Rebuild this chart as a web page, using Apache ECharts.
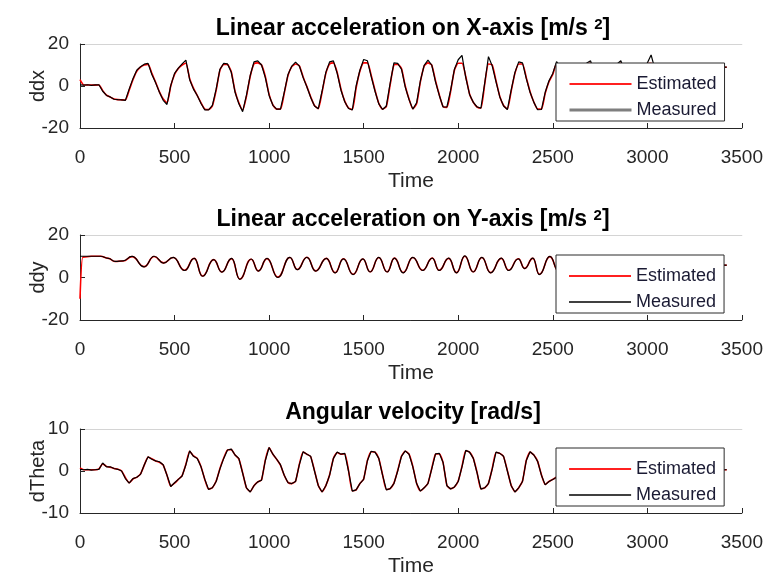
<!DOCTYPE html>
<html>
<head>
<meta charset="utf-8">
<script src="https://cdn.jsdelivr.net/npm/echarts@6/dist/echarts.min.js"></script>
<style>
  html, body { margin: 0; padding: 0; background: #ffffff; }
  #chart { width: 766px; height: 578px; }
</style>
</head>
<body>
<div id="chart"></div>
<script>
// Sample times (shared by the ddx and dTheta traces)
const sampleTimes = [
  0, 20, 40, 60, 80, 100, 120, 140, 160, 180,
  200, 220, 240, 260, 280, 300, 320, 340, 360, 380,
  400, 420, 440, 460, 480, 500, 520, 540, 560, 580,
  600, 620, 640, 660, 680, 700, 720, 740, 760, 780,
  800, 820, 840, 860, 880, 900, 920, 940, 960, 980,
  1000, 1020, 1040, 1060, 1080, 1100, 1120, 1140, 1160, 1180,
  1200, 1220, 1240, 1260, 1280, 1300, 1320, 1340, 1360, 1380,
  1400, 1420, 1440, 1460, 1480, 1500, 1520, 1540, 1560, 1580,
  1600, 1620, 1640, 1660, 1680, 1700, 1720, 1740, 1760, 1780,
  1800, 1820, 1840, 1860, 1880, 1900, 1920, 1940, 1960, 1980,
  2000, 2020, 2040, 2060, 2080, 2100, 2120, 2140, 2160, 2180,
  2200, 2220, 2240, 2260, 2280, 2300, 2320, 2340, 2360, 2380,
  2400, 2420, 2440, 2460, 2480, 2500, 2520, 2540, 2560, 2580,
  2600, 2620, 2640, 2660, 2680, 2700, 2720, 2740, 2760, 2780,
  2800, 2820, 2840, 2860, 2880, 2900, 2920, 2940, 2960, 2980,
  3000, 3020, 3040, 3060, 3080, 3100, 3120, 3140, 3160, 3180,
  3200, 3220, 3240, 3260, 3280, 3300, 3320, 3340, 3360, 3380,
  3400, 3420
];

// Linear acceleration on X-axis [m/s^2]
const ddxMeasured = [
  0.5, 0.4, 0.6, 0.3, 0.5, 0.6, -2.5, -4.5, -5.2, -6.3,
  -6.5, -6.6, -6.8, -1.5, 3.5, 7.5, 9.2, 10.4, 10.8, 5.5,
  1.5, -3.0, -6.8, -8.8, 0.3, 6.0, 8.5, 10.5, 12.3, 3.0,
  -1.5, -4.5, -8.3, -11.4, -11.4, -9.2, -1.5, 8.0, 10.8, 10.5,
  6.5, -3.0, -8.5, -12.2, -4.5, 5.0, 11.5, 12.0, 10.0, 4.0,
  -4.5, -9.2, -11.0, -11.0, -3.0, 5.5, 9.5, 11.4, 9.5, 4.0,
  -0.5, -5.5, -9.5, -10.8, -2.5, 6.5, 11.5, 12.0, 6.0, -2.0,
  -7.5, -10.7, -11.4, 0.0, 7.5, 12.6, 12.0, 4.5, -2.5, -8.5,
  -11.2, -9.5, 1.3, 11.0, 10.8, 8.0, -0.5, -6.5, -11.0, -8.0,
  2.5, 9.8, 12.3, 10.0, 2.0, -4.5, -10.0, -10.0, -2.0, 8.0,
  12.5, 14.6, 4.0, -4.0, -7.8, -10.0, -10.5, 1.3, 14.0, 9.5,
  2.0, -5.2, -9.5, -11.2, -2.0, 6.5, 11.5, 11.0, 3.5, -3.0,
  -7.8, -11.3, -11.2, -3.0, 2.5, 6.0, 11.6, 9.0, 2.0, -5.0,
  -10.0, -11.5, -5.0, 5.0, 11.0, 12.0, 6.0, -2.0, -8.0, -11.5,
  -6.0, 4.0, 10.5, 12.0, 7.0, -1.0, -7.5, -11.0, -6.0, 4.0,
  11.0, 14.8, 8.0, 0.0, -7.0, -11.0, -7.0, 3.0, 9.5, 10.5,
  6.0, -2.0, -8.0, -11.0, -6.0, 3.0, 8.5, 10.0, 9.5, 9.0,
  9.0, 9.0
];
const ddxEstimated = [
  3.0, 0.5, 0.5, 0.4, 0.4, 0.5, -2.2, -4.3, -5.3, -6.2,
  -6.5, -6.6, -6.7, -2.0, 3.0, 7.0, 9.0, 10.0, 10.3, 6.0,
  1.8, -2.8, -6.2, -8.0, 0.0, 5.5, 8.3, 10.0, 10.8, 3.5,
  -1.0, -4.5, -8.0, -11.0, -11.2, -9.5, -2.0, 7.5, 10.3, 10.2,
  6.8, -2.5, -8.0, -11.5, -5.0, 4.5, 10.5, 11.0, 10.0, 4.5,
  -4.0, -9.0, -11.0, -11.0, -3.5, 5.0, 9.2, 10.5, 9.6, 4.3,
  -0.3, -5.2, -9.3, -10.8, -3.0, 6.0, 10.5, 11.0, 6.5, -1.5,
  -7.2, -10.5, -11.2, -1.0, 7.0, 11.0, 11.0, 5.0, -2.0, -8.2,
  -11.0, -9.8, 0.5, 10.0, 10.3, 8.3, 0.0, -6.2, -10.8, -8.5,
  2.0, 9.5, 11.0, 10.0, 2.5, -4.2, -9.8, -10.2, -2.5, 7.5,
  10.8, 10.8, 4.5, -3.8, -7.8, -10.0, -10.5, 0.8, 10.5, 10.0,
  2.5, -5.0, -9.3, -11.0, -2.5, 6.0, 10.5, 10.5, 4.0, -2.7,
  -7.6, -11.0, -11.0, -3.5, 2.0, 5.5, 10.5, 9.2, 2.5, -4.8,
  -9.8, -11.2, -5.5, 4.5, 10.3, 10.8, 6.5, -1.5, -7.8, -11.2,
  -6.5, 3.5, 10.0, 10.8, 7.5, -0.5, -7.2, -10.8, -6.5, 3.5,
  10.3, 10.8, 8.5, 0.5, -6.8, -10.8, -7.5, 2.5, 9.2, 10.3,
  6.5, -1.5, -7.8, -10.8, -6.5, 2.5, 8.2, 9.7, 9.3, 8.9,
  8.9, 8.9
];

// Linear acceleration on Y-axis [m/s^2] (turning points of the oscillation)
const ddyTimes = [
  0, 15, 60, 108, 150, 185, 228, 275, 339, 392,
  442, 493, 553, 604, 648, 707, 750, 802, 845, 905,
  943, 989, 1046, 1110, 1149, 1200, 1246, 1303, 1349, 1393,
  1444, 1496, 1534, 1580, 1624, 1663, 1709, 1760, 1812, 1863,
  1899, 1950, 1991, 2035, 2079, 2125, 2171, 2228, 2266, 2318,
  2351, 2395, 2429, 2485, 2530, 2575, 2620, 2665, 2710, 2755,
  2800, 2845, 2890, 2935, 2980, 3025, 3070, 3115, 3160, 3205,
  3250, 3295, 3340, 3380, 3400, 3420
];
const ddyMeasured = [
  10.0, 10.0, 10.0, 10.0, 9.0, 7.6, 7.8, 9.9, 5.0, 10.0,
  6.8, 9.5, 3.3, 9.0, 0.6, 8.4, 2.5, 9.0, -0.9, 8.7,
  3.0, 9.0, 0.0, 9.5, 3.7, 9.5, 3.0, 9.0, 2.2, 8.8,
  1.4, 8.8, 2.6, 9.5, 2.6, 9.1, 2.2, 9.5, 3.3, 9.1,
  3.3, 9.1, 2.2, 10.2, 2.6, 9.5, 2.2, 9.1, 3.3, 8.8,
  4.2, 9.1, 1.4, 9.9, 3.0, 9.2, 2.5, 9.0, 3.0, 9.3,
  2.8, 9.0, 3.2, 9.1, 2.6, 9.4, 3.0, 9.0, 3.4, 8.8,
  3.0, 8.9, 3.6, 5.8, 5.8, 5.8
];
const ddyEstimated = [
  -10.0, 9.6, 10.0, 10.0, 9.0, 7.5, 7.8, 9.8, 5.1, 9.9,
  6.9, 9.4, 3.4, 9.0, 0.7, 8.4, 2.6, 8.9, -0.7, 8.6,
  3.1, 8.9, 0.2, 9.4, 3.8, 9.5, 3.1, 9.0, 2.3, 8.8,
  1.5, 8.7, 2.7, 9.4, 2.7, 9.1, 2.3, 9.4, 3.4, 9.1,
  3.4, 9.0, 2.3, 10.0, 2.7, 9.4, 2.3, 9.0, 3.4, 8.8,
  4.3, 9.0, 1.5, 9.8, 3.1, 9.1, 2.6, 9.0, 3.1, 9.2,
  2.9, 9.0, 3.3, 9.0, 2.7, 9.3, 3.1, 9.0, 3.5, 8.7,
  3.1, 8.8, 3.7, 5.8, 5.8, 5.8
];

// Angular velocity [rad/s]
const dThetaMeasured = [
  0.4, 0.3, 0.4, 0.2, 0.3, 0.4, 1.9, 1.0, 1.0, 0.6,
  0.4, 0.0, -1.8, -2.9, -1.8, -1.5, -0.8, 1.5, 3.4, 2.8,
  2.4, 2.2, 1.5, -1.0, -3.7, -2.8, -2.0, -1.2, 1.5, 4.8,
  3.5, 3.0, 1.0, -2.0, -4.4, -4.0, -2.5, 0.5, 3.0, 5.0,
  5.2, 3.8, 3.0, -0.5, -4.0, -5.0, -3.5, -2.6, -2.2, 2.5,
  5.6, 4.0, 2.8, 1.5, -1.0, -2.8, -3.0, -2.5, 1.5, 4.6,
  4.0, 3.5, 0.0, -3.5, -5.0, -3.5, -1.0, 3.0, 4.5, 4.0,
  4.2, 0.0, -4.8, -4.5, -3.0, -2.0, 2.5, 4.7, 4.5, 3.0,
  -1.0, -4.5, -4.2, -3.0, 0.0, 3.5, 4.8, 4.0, 1.0, -3.0,
  -4.8, -4.0, -3.0, 0.5, 4.1, 4.2, 2.0, -3.5, -4.3, -3.8,
  -2.5, 1.0, 4.9, 4.5, 3.0, -0.5, -4.3, -4.0, -3.0, 0.5,
  4.5, 4.2, 3.5, 0.0, -3.5, -5.0, -4.0, -2.5, 2.5, 4.6,
  3.8, 2.3, -1.0, -3.3, -2.5, -2.0, -1.5, 2.0, 4.5, 4.0,
  2.5, -1.0, -4.0, -4.5, -3.0, -1.0, 3.0, 4.5, 4.0, 2.0,
  -2.0, -4.5, -4.0, -2.5, 1.0, 4.0, 4.5, 3.0, 0.0, -3.5,
  -4.5, -3.5, -1.5, 2.5, 4.5, 4.0, 2.5, -1.0, -4.0, -4.5,
  -3.0, -0.5, 3.0, 4.5, 3.5, 1.0, -2.5, -2.0, -1.0, 0.0,
  0.3, 0.3
];
const dThetaEstimated = [
  0.7, 0.3, 0.3, 0.3, 0.3, 0.5, 1.7, 1.1, 0.9, 0.6,
  0.4, 0.0, -1.6, -2.8, -1.9, -1.5, -0.7, 1.4, 3.3, 2.9,
  2.4, 2.1, 1.4, -1.0, -3.6, -2.9, -2.0, -1.1, 1.6, 4.7,
  3.6, 3.0, 1.0, -2.0, -4.3, -4.0, -2.4, 0.6, 3.1, 5.0,
  5.1, 3.8, 2.9, -0.4, -4.0, -4.9, -3.5, -2.6, -2.1, 2.6,
  5.5, 4.0, 2.8, 1.4, -1.0, -2.7, -3.0, -2.4, 1.6, 4.5,
  4.0, 3.4, 0.1, -3.4, -4.9, -3.5, -0.9, 3.0, 4.4, 4.0,
  4.1, 0.1, -4.7, -4.5, -3.0, -1.9, 2.5, 4.6, 4.5, 3.0,
  -0.9, -4.4, -4.2, -2.9, 0.1, 3.5, 4.7, 4.0, 1.1, -2.9,
  -4.7, -4.0, -2.9, 0.6, 4.0, 4.1, 2.0, -3.4, -4.2, -3.8,
  -2.4, 1.1, 4.8, 4.5, 3.0, -0.4, -4.2, -4.0, -2.9, 0.6,
  4.4, 4.2, 3.4, 0.1, -3.4, -4.9, -4.0, -2.4, 2.5, 4.5,
  3.8, 2.3, -0.9, -3.2, -2.5, -2.0, -1.4, 2.0, 4.4, 4.0,
  2.5, -0.9, -3.9, -4.4, -3.0, -0.9, 3.0, 4.4, 4.0, 2.0,
  -1.9, -4.4, -4.0, -2.4, 1.0, 3.9, 4.4, 3.0, 0.1, -3.4,
  -4.4, -3.5, -1.4, 2.5, 4.4, 4.0, 2.5, -0.9, -3.9, -4.4,
  -3.0, -0.4, 3.0, 4.4, 3.5, 1.0, -2.4, -2.0, -1.0, 0.0,
  0.3, 0.3
];

// Axis and panel labels
const timeTicks = [0, 500, 1000, 1500, 2000, 2500, 3000, 3500];
const panelTitles = [
  '{b|Linear acceleration on X-axis [m/s }{s|2}{b|]}',
  '{b|Linear acceleration on Y-axis [m/s }{s|2}{b|]}',
  '{b|Angular velocity [rad/s]}'
];
const yNames = ['ddx', 'ddy', 'dTheta'];
const yRanges = [[-20, 20, 20], [-20, 20, 20], [-10, 10, 10]];
const legendNames = ['Estimated', 'Measured'];

const FONT = '"Liberation Sans", Arial, Helvetica, sans-serif';
const AXIS_COLOR = '#262626';

const grids = [
  { left: 80, top: 44, width: 665, height: 84 },
  { left: 80, top: 235, width: 665, height: 85 },
  { left: 80, top: 429, width: 665, height: 85 }
];
const legendTops = [63, 255, 448];
const titleTops = [12, 203, 396];
const measuredLegendStyle = [
  { color: '#7f7f7f', width: 3 },
  { color: '#000000', width: 1.5 },
  { color: '#404040', width: 2.2 }
];

function pairs(times, values) {
  return values.map((v, i) => [times[i], v]);
}

const xAxes = [];
const yAxes = [];
grids.forEach((g, i) => {
  xAxes.push({
    gridIndex: i,
    type: 'value',
    min: timeTicks[0],
    max: timeTicks[timeTicks.length - 1],
    interval: timeTicks[1] - timeTicks[0],
    axisLine: { show: true, onZero: false, lineStyle: { color: AXIS_COLOR, width: 1 } },
    axisTick: { show: true, inside: true, length: 5, lineStyle: { color: AXIS_COLOR } },
    axisLabel: { fontSize: 19, color: AXIS_COLOR, margin: 20, fontFamily: FONT, formatter: v => String(v) },
    splitLine: { show: false },
    name: 'Time',
    nameLocation: 'middle',
    nameGap: 43,
    nameMoveOverlap: false,
    nameTextStyle: { fontSize: 21, color: AXIS_COLOR, fontFamily: FONT }
  });
  // light frame line along the top of each panel
  xAxes.push({
    gridIndex: i,
    type: 'value',
    position: 'top',
    min: timeTicks[0],
    max: timeTicks[timeTicks.length - 1],
    axisLine: { show: true, onZero: false, lineStyle: { color: '#d4d4d4', width: 1 } },
    axisTick: { show: false },
    axisLabel: { show: false },
    splitLine: { show: false }
  });
  const r = yRanges[i];
  yAxes.push({
    gridIndex: i,
    type: 'value',
    min: r[0],
    max: r[1],
    interval: r[2],
    axisLine: { show: true, onZero: false, lineStyle: { color: AXIS_COLOR, width: 1 } },
    axisTick: { show: true, inside: true, length: 5, lineStyle: { color: AXIS_COLOR } },
    axisLabel: { fontSize: 19, color: AXIS_COLOR, margin: 11, fontFamily: FONT },
    splitLine: { show: false },
    name: yNames[i],
    nameLocation: 'middle',
    nameGap: 32,
    nameMoveOverlap: false,
    nameTextStyle: { fontSize: 20, color: AXIS_COLOR, fontFamily: FONT }
  });
});

const panelData = [
  [pairs(sampleTimes, ddxEstimated), pairs(sampleTimes, ddxMeasured)],
  [pairs(ddyTimes, ddyEstimated), pairs(ddyTimes, ddyMeasured)],
  [pairs(sampleTimes, dThetaEstimated), pairs(sampleTimes, dThetaMeasured)]
];

const series = [];
panelData.forEach((d, i) => {
  const smoothPanel = i === 1;
  series.push({
    name: legendNames[0],
    type: 'line',
    xAxisIndex: 2 * i,
    yAxisIndex: i,
    data: d[0],
    symbol: 'none',
    smooth: smoothPanel ? 0.5 : 0.2,
    smoothMonotone: smoothPanel ? 'x' : undefined,
    lineStyle: { color: '#ff0000', width: 1.6 },
    itemStyle: { color: '#ff0000' },
    z: 2
  });
  series.push({
    name: legendNames[1],
    type: 'line',
    xAxisIndex: 2 * i,
    yAxisIndex: i,
    data: d[1],
    symbol: 'none',
    smooth: smoothPanel ? 0.5 : false,
    smoothMonotone: smoothPanel ? 'x' : undefined,
    lineStyle: { color: '#000000', width: 1.2 },
    itemStyle: { color: '#000000' },
    z: 3
  });
});

const titles = panelTitles.map((t, i) => ({
  text: t,
  left: 408,
  top: titleTops[i],
  textAlign: 'center',
  textStyle: {
    fontSize: 23,
    fontWeight: 'bold',
    fontFamily: FONT,
    color: '#000000',
    rich: {
      b: { fontSize: 23, fontWeight: 'bold', fontFamily: FONT, color: '#000000' },
      s: { fontSize: 15, fontWeight: 'bold', fontFamily: FONT, color: '#000000', verticalAlign: 'top' }
    }
  }
}));

const legends = legendTops.map((top, i) => ({
  left: 556,
  top: top,
  orient: 'vertical',
  selectedMode: false,
  padding: [12, 8, 2, 12],
  itemGap: 8,
  itemWidth: 62,
  itemHeight: 18,
  backgroundColor: '#ffffff',
  borderColor: '#2b2b2b',
  borderWidth: 1,
  z: 10,
  textStyle: { fontSize: 18, color: '#1a1a33', lineHeight: 18, fontFamily: FONT },
  data: [
    {
      name: legendNames[0],
      lineStyle: { color: '#ff2020', width: 2 },
      itemStyle: { color: '#ff2020', opacity: 0 }
    },
    {
      name: legendNames[1],
      lineStyle: { color: measuredLegendStyle[i].color, width: measuredLegendStyle[i].width },
      itemStyle: { color: measuredLegendStyle[i].color, opacity: 0 }
    }
  ]
}));

const chart = echarts.init(document.getElementById('chart'), null, { renderer: 'canvas' });
chart.setOption({
  animation: false,
  backgroundColor: '#ffffff',
  textStyle: { fontFamily: FONT },
  title: titles,
  legend: legends,
  grid: grids,
  xAxis: xAxes,
  yAxis: yAxes,
  series: series
});
</script>
</body>
</html>
